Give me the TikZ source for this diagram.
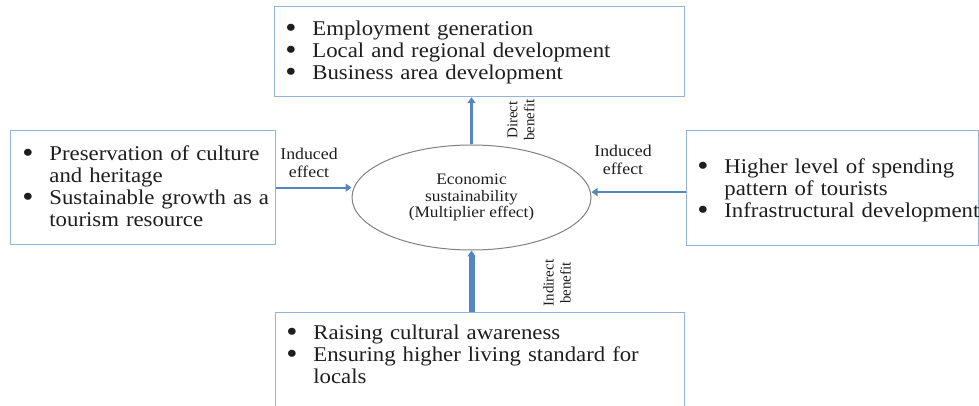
\documentclass[tikz,border=0pt]{standalone}
\usepackage{fontspec}
\setmainfont[FakeStretch=1.085]{Liberation Serif}
\newfontfamily\plainserif{Liberation Serif}
\usetikzlibrary{arrows.meta,shapes.geometric}

\definecolor{boxline}{RGB}{149,179,215}
\definecolor{arrowblue}{RGB}{84,134,192}
\definecolor{txtgray}{RGB}{30,30,30}
\hyphenpenalty=10000
\exhyphenpenalty=10000
\newcommand{\bitem}[1]{\par\hangindent=13.5pt\hangafter=1\noindent\makebox[13.5pt][l]{\raisebox{-1pt}{\scalebox{1.4}{\textbullet}}}#1\par}

\begin{document}
\begin{tikzpicture}[x=0.5pt, y=-0.5pt,
  panel/.style={draw=boxline, line width=0.6pt, rectangle, inner sep=0pt, anchor=north west},
  itemtext/.style={anchor=north west, inner sep=0pt, text width=#1, align=left, font=\fontsize{10.5}{11}\selectfont, text=txtgray},
  small/.style={font=\fontsize{8.2}{9}\selectfont, text=txtgray, align=center, inner sep=0pt},
  turned/.style={font=\plainserif\fontsize{7.5}{8.5}\selectfont, text=txtgray, align=center, inner sep=0pt, rotate=90},
  flow/.style={draw=arrowblue, line width=#1, -{Triangle[length=3pt,width=4pt]}}
]
\useasboundingbox (0,0) rectangle (979,406);

% boxes
\node[panel, minimum width=205pt, minimum height=45pt]   (top)    at (274,6)   {};
\node[panel, minimum width=132.5pt, minimum height=57pt] (left)   at (10,130)  {};
\node[panel, minimum width=146pt, minimum height=57.5pt] (right)  at (686,130) {};
\node[panel, minimum width=204.5pt, minimum height=52pt] (bottom) at (275,312) {};

\node[itemtext=195pt] (toptext) at (285,13) {%
  \bitem{Employment generation}
  \bitem{Local and regional development}
  \bitem{Business area development}};
\node[itemtext=124pt] (lefttext) at (22,138) {%
  \bitem{Preservation of culture and heritage}
  \bitem{Sustainable growth as a tourism resource}};
\node[itemtext=142pt] (righttext) at (697,151) {%
  \bitem{Higher level of spending pattern of tourists}
  \bitem{Infrastructural development}};
\node[itemtext=180pt] (bottomtext) at (286,317) {%
  \bitem{Raising cultural awareness}
  \bitem{Ensuring higher living standard for locals}};

% centre
\node[ellipse, draw=gray, line width=0.5pt, minimum width=119.5pt, minimum height=52.5pt,
  small, font=\fontsize{8}{8.3}\selectfont] (econ) at (471.5,197.5)
  {Economic\\sustainability\\(Multiplier effect)};

% labels
\node[small] (indl) at (309,163) {Induced\\effect};
\node[small] (indr) at (623,160) {Induced\\effect};
\node[turned] (direct) at (521,120) {Direct\\benefit};
\node[turned] (indirect) at (557,283) {Indirect\\benefit};

% arrows
\draw[flow=1.5pt] (econ.north) -- (top.south -| econ.north);
\draw[flow=3pt] (bottom.north -| econ.south) -- (econ.south);
\draw[flow=1pt] (left.east) -- (left.east -| econ.west);
\draw[flow=1pt] ([yshift=-2pt]right.west) -- ([yshift=-2pt]right.west -| econ.east);
\end{tikzpicture}
\end{document}
